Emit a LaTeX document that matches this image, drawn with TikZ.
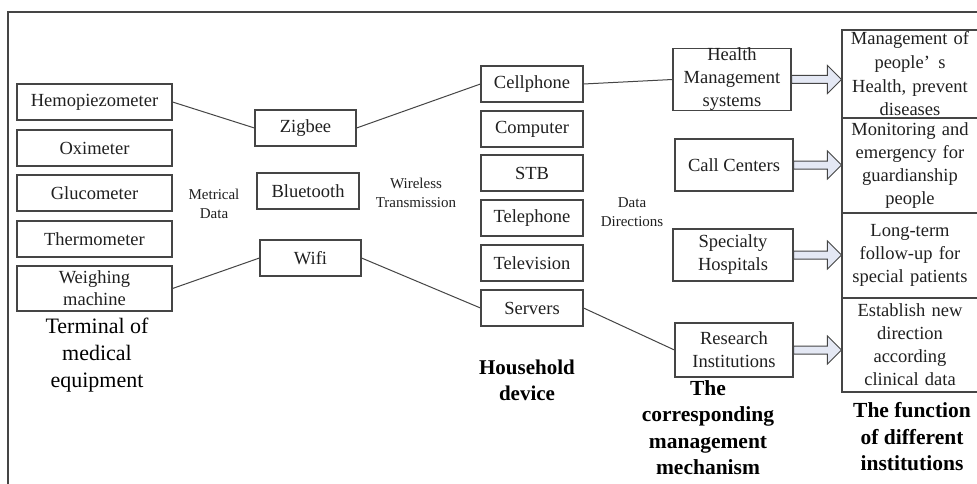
\documentclass[tikz,border=0pt]{standalone}
\usepackage{fontspec}
\setmainfont{Liberation Serif}
\usetikzlibrary{calc}
\definecolor{ln}{HTML}{454545}
\definecolor{tx}{HTML}{202020}
\definecolor{afill}{HTML}{E4E8F4}
\tikzset{
  box/.style={draw=ln, line width=1.1pt, rectangle, inner sep=0pt, align=center, text=tx,
    font=\fontsize{18.5}{22.5}\selectfont},
  rbox/.style={box, minimum width=136pt, text width=134pt},
  small/.style={inner sep=0pt, align=center, text=tx, font=\fontsize{15}{19}\selectfont},
  head/.style={inner sep=0pt, align=center, text=black, font=\fontsize{22}{26.5}\selectfont},
  conn/.style={draw=ln, line width=1pt},
  barrowstyle/.style={draw=ln, line width=1pt, fill=afill, line join=miter}
}
\newcommand\mybarrow[2]{%
  \path (#1.east) coordinate (s) (#1.east -| #2.west) coordinate (t);
  \draw[barrowstyle] ($(s)+(0,-4)$) -- ($(t)+(-14,-4)$) -- ($(t)+(-14,-14)$) -- (t)
    -- ($(t)+(-14,14)$) -- ($(t)+(-14,4)$) -- ($(s)+(0,4)$) -- cycle;}
\begin{document}
\begin{tikzpicture}[x=1pt,y=-1pt]
\useasboundingbox (0,0) rectangle (977,484);
\fill[white] (0,0) rectangle (977,484);
\draw[ln, line width=1.3pt] (978,12) -- (8,12) -- (8,485);

% left column
\node[box, minimum width=155pt, minimum height=36pt] (hemo) at (94.5,102) {Hemopiezometer};
\node[box, minimum width=155pt, minimum height=36pt] (oxi) at (94.5,148) {Oximeter};
\node[box, minimum width=155pt, minimum height=36pt] (glu) at (94.5,193) {Glucometer};
\node[box, minimum width=155pt, minimum height=36pt] (ther) at (94.5,239) {Thermometer};
\node[box, minimum width=155pt, minimum height=45pt, font=\fontsize{18.5}{22}\selectfont] (weigh) at (94.5,288.5) {Weighing\\machine};
\node[head, font=\fontsize{22}{27}\selectfont] (term) at (97,355) {Terminal of\\medical\\equipment};

% transmission column
\node[box, minimum width=101pt, minimum height=36pt] (zig) at (305.5,128) {Zigbee};
\node[box, minimum width=102pt, minimum height=36pt] (blue) at (308,191) {Bluetooth};
\node[box, minimum width=101pt, minimum height=36pt] (wifi) at (310.5,258) {Wifi};
\node[small] (metr) at (214,203.5) {Metrical\\Data};
\node[small] (wire) at (416,192.5) {Wireless\\Transmission};

% household devices
\node[box, minimum width=102pt, minimum height=36pt] (cell) at (532,84) {Cellphone};
\node[box, minimum width=102pt, minimum height=36pt] (comp) at (532,129) {Computer};
\node[box, minimum width=102pt, minimum height=36pt] (stb) at (532,173) {STB};
\node[box, minimum width=102pt, minimum height=36pt] (tel) at (532,218) {Telephone};
\node[box, minimum width=102pt, minimum height=36pt] (tv) at (532,263) {Television};
\node[box, minimum width=102pt, minimum height=36pt] (serv) at (532,308) {Servers};
\node[head, font=\bfseries\fontsize{21}{26}\selectfont] (house) at (527,380) {Household\\device};
\node[small] (dd) at (632,212.5) {Data\\Directions};

% management mechanism
\node[box, minimum width=118pt, minimum height=61pt, font=\fontsize{18.5}{23}\selectfont] (hms) at (732,79.5) {Health\\Management\\systems};
\node[box, minimum width=118pt, minimum height=52pt] (cc) at (734,165) {Call Centers};
\node[box, minimum width=120pt, minimum height=52pt, font=\fontsize{18.5}{23}\selectfont] (sh) at (733,255) {Specialty\\Hospitals};
\node[box, minimum width=118pt, minimum height=54pt, font=\fontsize{18.5}{23}\selectfont] (ri) at (734,350) {Research\\Institutions};
\node[head, font=\bfseries\fontsize{21.5}{26.3}\selectfont] (mech) at (708,427.5) {The\\corresponding\\management\\mechanism};

% functions
\node[rbox, minimum height=88pt, font=\fontsize{18.5}{23.7}\selectfont] (f1) at (910,74) {Management of\\people’\hspace{0.45em}s\\Health, prevent\\diseases};
\node[rbox, minimum height=95pt, font=\fontsize{18.5}{23}\selectfont] (f2) at (910,165.5) {Monitoring and\\emergency for\\guardianship\\people};
\node[rbox, minimum height=85pt, font=\fontsize{18.5}{23}\selectfont] (f3) at (910,255.5) {Long-term\\follow-up for\\special patients};
\node[rbox, minimum height=94pt, font=\fontsize{18.5}{23}\selectfont] (f4) at (910,345) {Establish new\\direction\\according\\clinical data};
\node[head, font=\bfseries\fontsize{21.5}{26.5}\selectfont] (func) at (912,437) {The function\\of different\\institutions};

% connectors
\draw[conn] (hemo.east) -- (zig.west);
\draw[conn] (weigh.east) -- (wifi.west);
\draw[conn] (zig.east) -- (cell.west);
\draw[conn] (wifi.east) -- (serv.west);
\draw[conn] (cell.east) -- (hms.west);
\draw[conn] (serv.east) -- (ri.west);

% block arrows
\mybarrow{hms}{f1}
\mybarrow{cc}{f2}
\mybarrow{sh}{f3}
\mybarrow{ri}{f4}
\end{tikzpicture}
\end{document}
